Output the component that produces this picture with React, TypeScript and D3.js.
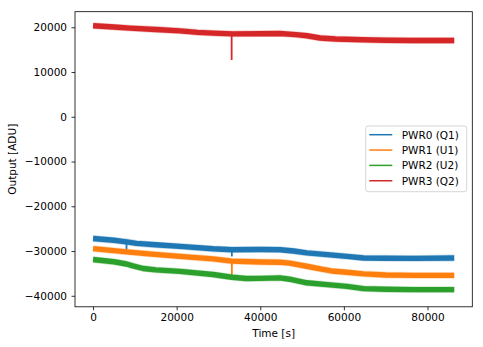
import React, { useEffect, useRef } from "react";
import * as d3 from "d3";

const seriesNames = ["PWR0 (Q1)", "PWR1 (U1)", "PWR2 (U2)", "PWR3 (Q2)"];
const seriesColors = ["#1f77b4", "#ff7f0e", "#2ca02c", "#d62728"];

// [time s, output ADU] – centre of each noisy trace
const pwr0: [number, number][] = [
  [0, -27200], [5000, -27600], [8000, -27950], [10400, -28300], [15000, -28600],
  [20800, -28950], [28700, -29500], [33200, -29700], [40000, -29650], [44700, -29700],
  [48000, -30000], [51100, -30400], [56000, -30800], [60700, -31200], [64700, -31550],
  [70000, -31600], [76600, -31640], [86400, -31560],
];
const pwr1: [number, number][] = [
  [0, -29450], [8000, -30200], [14000, -30700], [20800, -31200], [28700, -31750],
  [33200, -32250], [40000, -32450], [44700, -32500], [47000, -32700], [51100, -33400],
  [54300, -34000], [57000, -34450], [60700, -34750], [64700, -35100], [70000, -35350],
  [76600, -35430], [86400, -35430],
];
const pwr2: [number, number][] = [
  [0, -31900], [5000, -32400], [8000, -32900], [9500, -33300], [12000, -33900], [15000, -34200],
  [20800, -34550], [28700, -35250], [33200, -35850], [36700, -36150], [40000, -36100],
  [44700, -36000], [47000, -36300], [51100, -37100], [56000, -37500], [60700, -37900],
  [64700, -38400], [70000, -38550], [76600, -38630], [86400, -38630],
];
const pwr3: [number, number][] = [
  [0, 20350], [5000, 20050], [8800, 19800], [15000, 19500], [20800, 19200],
  [25000, 18850], [28700, 18690], [33400, 18530], [40000, 18560], [44700, 18600],
  [48500, 18350], [51200, 18100], [54300, 17600], [58000, 17380], [64600, 17200],
  [70000, 17100], [76600, 17040], [86400, 17050],
];
const allSeries = [pwr0, pwr1, pwr2, pwr3];

// glitches: [series index, time, from value, to value]
const spikes: [number, number, number, number][] = [
  [0, 8000, -27950, -29700],
  [0, 33200, -29700, -31200],
  [1, 33200, -32250, -35430],
  [3, 33150, 18530, 12700],
];

const xTicks = [0, 20000, 40000, 60000, 80000];
const yTicks = [-40000, -30000, -20000, -10000, 0, 10000, 20000];

const W = 483, H = 347;
const L = 75, R = 472.3, T = 11.7, B = 306.8;
const FONT = "DejaVu Sans, sans-serif";

export default function App() {
  const xAxisRef = useRef<SVGGElement>(null);
  const yAxisRef = useRef<SVGGElement>(null);

  const x = d3.scaleLinear().domain([-4320, 90720]).range([L, R]);
  const y = d3.scaleLinear().domain([-42460, 23480]).range([B, T]);

  useEffect(() => {
    const fmt = d3.format("d");
    const xa = d3.axisBottom(x).tickValues(xTicks).tickFormat(fmt as any).tickSize(3.5).tickPadding(3.5).tickSizeOuter(0);
    const ya = d3.axisLeft(y).tickValues(yTicks).tickFormat(fmt as any).tickSize(3.5).tickPadding(4.5).tickSizeOuter(0);
    const gx = d3.select(xAxisRef.current!);
    gx.call(xa as any);
    const gy = d3.select(yAxisRef.current!);
    gy.call(ya as any);
    [gx, gy].forEach((g) => {
      g.select(".domain").remove();
      g.selectAll("line").attr("stroke", "#000").attr("stroke-width", 0.8);
      g.selectAll("text").attr("fill", "#000").style("font-family", FONT).style("font-size", "10.5px");
    });
  }, []);

  const line = d3
    .line<[number, number]>()
    .x((d) => x(d[0]))
    .y((d) => y(d[1]))
    .curve(d3.curveLinear);

  return (
    <svg width={W} height={H} style={{ position: "absolute", left: 0, top: 0 }} fontFamily={FONT}>
      <rect x={0} y={0} width={W} height={H} fill="#fff" />
      <g>
        {allSeries.map((s, i) => (
          <g key={i}>
            <path d={line(s) || ""} fill="none" stroke={seriesColors[i]} strokeWidth={6.8} strokeOpacity={0.25} strokeLinejoin="round" />
            <path d={line(s) || ""} fill="none" stroke={seriesColors[i]} strokeWidth={5.4} strokeLinejoin="round" />
            {spikes
              .filter((sp) => sp[0] === i)
              .map((sp, j) => (
                <line key={j} x1={x(sp[1])} x2={x(sp[1])} y1={y(sp[2])} y2={y(sp[3])} stroke={seriesColors[i]} strokeWidth={1.8} />
              ))}
          </g>
        ))}
      </g>
      <rect x={L} y={T} width={R - L} height={B - T} fill="none" stroke="#000" strokeWidth={0.8} />
      <g ref={xAxisRef} transform={`translate(0,${B})`} />
      <g ref={yAxisRef} transform={`translate(${L},0)`} />
      <text x={(L + R) / 2} y={337} textAnchor="middle" fontSize={10.5} fill="#000">Time [s]</text>
      <text transform={`translate(15.5,${(T + B) / 2}) rotate(-90)`} textAnchor="middle" fontSize={10.5} fill="#000">Output [ADU]</text>
      <g>
        <rect x={365.7} y={126} width={101} height={65.7} rx={2.5} fill="#fff" fillOpacity={0.8} stroke="#cccccc" strokeWidth={0.8} />
        {seriesNames.map((n, i) => (
          <g key={n}>
            <line x1={369.3} x2={392.3} y1={134.7 + i * 15.35} y2={134.7 + i * 15.35} stroke={seriesColors[i]} strokeWidth={1.5} />
            <text x={401.7} y={134.7 + i * 15.35} dominantBaseline="central" fontSize={10.5} fill="#000">{n}</text>
          </g>
        ))}
      </g>
    </svg>
  );
}
